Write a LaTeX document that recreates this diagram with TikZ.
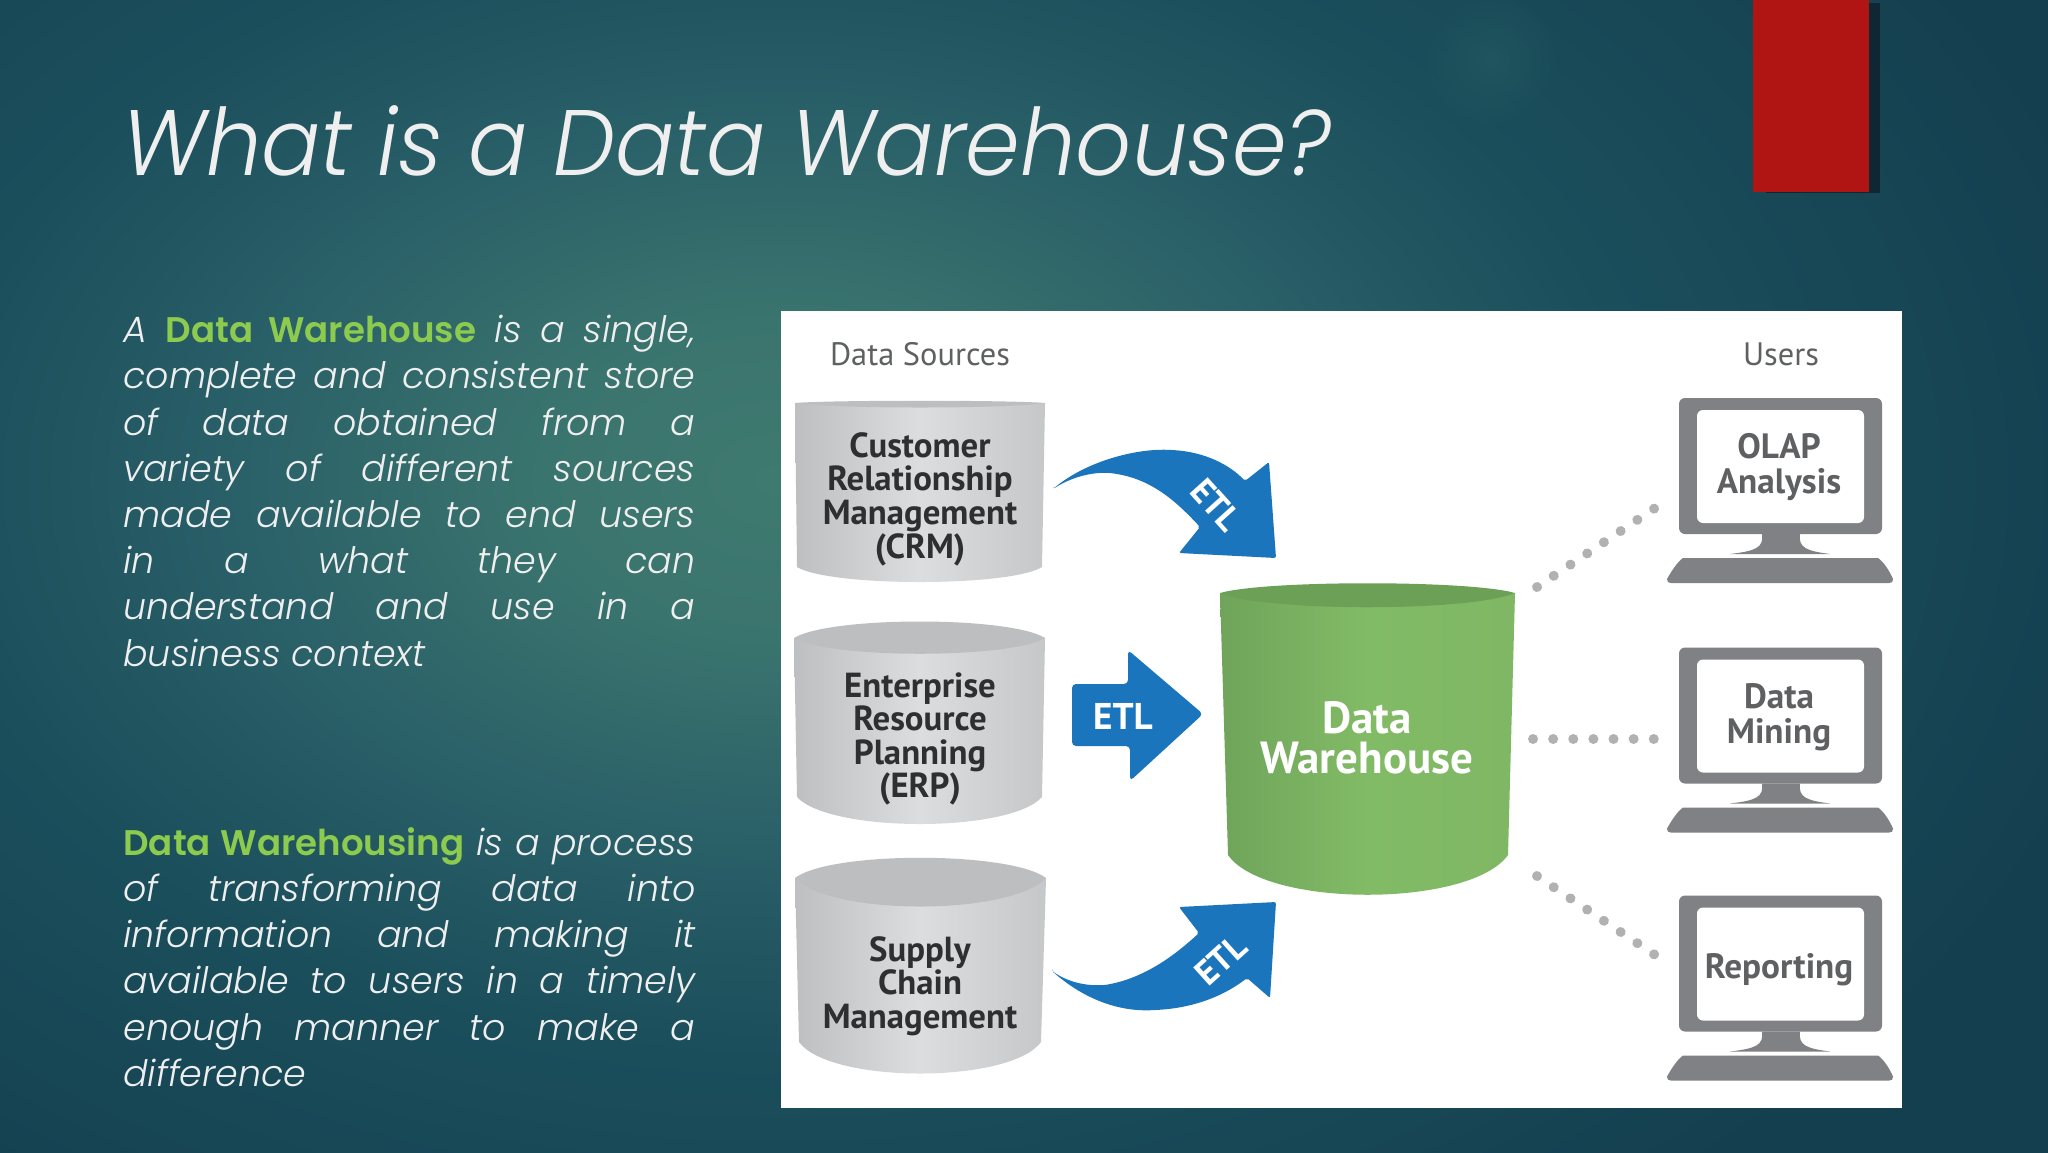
\documentclass[tikz,border=0pt]{standalone}
\usepackage{fontspec}
\usetikzlibrary{fadings}
\setmainfont{Liberation Sans}
\newfontfamily\gothic{Poppins Light Italic}
\newfontfamily\gothict[FakeStretch=0.943]{Poppins Light Italic}
\newfontfamily\gothicb{Poppins SemiBold}
\newfontfamily\ptb{PT Sans Bold}
\newfontfamily\ptr{PT Sans}
\definecolor{edge}{HTML}{143F4F}
\definecolor{bgb}{HTML}{1B4F5C}
\definecolor{bgmid}{HTML}{2A6068}
\definecolor{bgin}{HTML}{3A746E}
\definecolor{bgcen}{HTML}{3F7A70}
\definecolor{bgglow}{HTML}{20565F}
\definecolor{redbar}{HTML}{B01513}
\definecolor{redshadow}{HTML}{0E2733}
\definecolor{titlec}{HTML}{EFEFEF}
\definecolor{hl}{HTML}{8CCB4E}
\definecolor{etlblue}{HTML}{1B75BC}
\definecolor{pcgrey}{HTML}{808184}
\definecolor{pctext}{HTML}{5F6062}
\definecolor{drumtext}{HTML}{2E2F31}
\definecolor{dotgrey}{HTML}{B0B1B3}
\definecolor{drumL}{HTML}{BEBFC1}
\definecolor{drumM}{HTML}{DCDDDE}
\definecolor{drumR}{HTML}{C6C7C9}
\definecolor{drumT}{HTML}{BDBEC0}
\definecolor{wdL}{HTML}{6FA45A}
\definecolor{wdM}{HTML}{82BB66}
\definecolor{wdR}{HTML}{7FB764}
\definecolor{wdT}{HTML}{6CA056}
\pgfdeclareradialshading{slidebg}{\pgfpoint{0bp}{0bp}}{
  color(0bp)=(bgcen); color(4bp)=(bgin); color(9bp)=(bgmid); color(14bp)=(bgb); color(23bp)=(edge); color(50bp)=(edge)}
\tikzfading[name=glowfade,inner color=transparent!0,outer color=transparent!100]
\tikzset{
  slidetext/.style={anchor=north west,text width=286pt,align=justify,font=\gothic\fontsize{18.2}{23.1}\selectfont,text=titlec,inner sep=0pt},
  cyltext/.style={align=center,font=\ptb\fontsize{17.4}{16.8}\selectfont,text=drumtext,inner sep=0pt},
  pctextst/.style={align=center,font=\ptb\fontsize{17.6}{17.4}\selectfont,text=pctext,inner sep=0pt},
  heading/.style={font=\ptr\fontsize{16.2}{18}\selectfont,text=pctext,inner sep=0pt},
  etl/.style={font=\ptb\fontsize{17.5}{18}\selectfont,text=white,inner sep=0pt},
  drumbody/.style={shade,left color=drumL,right color=drumR,middle color=drumM},
  drumtop/.style={fill=drumT},
  dots/.style={draw=dotgrey,line width=5pt,line cap=round,dash pattern=on 0.01pt off 10.05pt},
  pics/computer/.style={code={
    \fill[pcgrey,rounded corners=3pt] (1679,398) rectangle (1882,534);
    \fill[white,rounded corners=3pt] (1697,410) rectangle (1864,523);
    \fill[pcgrey] (1762,534) .. controls (1764,548) and (1755,551) .. (1730,554) -- (1830,554)
      .. controls (1807,551) and (1798,548) .. (1800,534) -- cycle;
    \fill[pcgrey] (1683,558) -- (1878,558) .. controls (1884,562) and (1890,572) .. (1893,579)
      .. controls (1893,582) and (1892,583) .. (1889,583) -- (1671,583) .. controls (1668,583) and (1667,582) .. (1667,579)
      .. controls (1671,572) and (1677,562) .. (1683,558) -- cycle;
  }}
}
\begin{document}
\begin{tikzpicture}[x=0.5pt,y=-0.5pt]
\useasboundingbox (0,0) rectangle (2048,1152);
% background
\fill[edge] (-4,-4) rectangle (2052,1156);
\begin{scope}
\clip (-4,-4) rectangle (2052,1156);
\path[shading=slidebg] (780,480) ellipse [x radius=1500,y radius=1000];
\fill[bgglow,path fading=glowfade] (1490,60) circle [x radius=70,y radius=70];
\end{scope}
% red bar
\fill[redshadow] (1766,3) rectangle (1880,193);
\fill[redbar] (1753,0) rectangle (1869,192);
% title
\node[anchor=base west,inner sep=0pt,text=titlec,font=\gothict\fontsize{46.5}{60}\selectfont] (title) at (122,175) {What is a Data Warehouse?};
% left text
\node[slidetext] (para1) at (123,315) {\tolerance=10000\hbadness=10000
A {\gothicb\fontsize{17.8}{23.1}\selectfont\color{hl}Data Warehouse} is a single,\linebreak
complete and consistent store\linebreak
of data obtained from a\linebreak
variety of different sources\linebreak
made available to end users\linebreak
in a what they can\linebreak
understand and use in a\linebreak
business context};
\node[slidetext] (para2) at (123,827) {\tolerance=10000\hbadness=10000
{\gothicb\fontsize{17.8}{23.1}\selectfont\color{hl}Data Warehousing} is a process\linebreak
of transforming data into\linebreak
information and making it\linebreak
available to users in a timely\linebreak
enough manner to make a\linebreak
difference};
% panel
\fill[white] (781,311) rectangle (1902,1108);
\node[heading] (hsrc) at (920,354) {Data Sources};
\node[heading] (husr) at (1781,354) {Users};
% CRM drum
\path[drumbody]
  (795,403) -- (797,567) .. controls (830,587) and (1010,587) .. (1042,567) -- (1045,403) -- cycle;
\fill[drumtop] (795,403) .. controls (830,400) and (1010,400) .. (1045,403) .. controls (1010,409) and (830,409) .. (795,403) -- cycle;
% ERP drum
\path[drumbody]
  (794,638) -- (797,797) .. controls (830,833) and (1010,833) .. (1042,797) -- (1045,638) -- cycle;
\fill[drumtop] (794,638) .. controls (830,616) and (1010,616) .. (1045,638) .. controls (1010,659) and (830,659) .. (794,638) -- cycle;
% SCM drum
\path[drumbody]
  (795,878) -- (799,1042) .. controls (830,1084) and (1010,1084) .. (1041,1042) -- (1046,878) -- cycle;
\fill[drumtop] (795,878) .. controls (830,851) and (1010,851) .. (1046,878) .. controls (1010,916) and (830,916) .. (795,878) -- cycle;
% warehouse drum
\path[shade,left color=wdL,right color=wdR,middle color=wdM]
  (1220,593) -- (1228,855) .. controls (1265,908) and (1470,908) .. (1508,855) -- (1515,593) -- cycle;
\fill[wdT] (1220,593) .. controls (1265,580) and (1470,580) .. (1515,593) .. controls (1470,612) and (1265,612) .. (1220,593) -- cycle;
\node[cyltext] (crm) at (920,499) {Customer\\Relationship\\Management\\(CRM)};
\node[cyltext] (erp) at (920,739) {Enterprise\\Resource\\Planning\\(ERP)};
\node[cyltext] (scm) at (920,986) {Supply\\Chain\\Management};
\node[align=center,font=\ptb\fontsize{22.5}{20}\selectfont,text=white,inner sep=0pt] (dw) at (1367,738) {Data\\Warehouse};
% ETL arrows
\fill[etlblue,rounded corners=1pt] (1053,489) .. controls (1085,462) and (1135,448) .. (1172,450)
  .. controls (1205,452) and (1230,465) .. (1245,481) -- (1269,462) -- (1276,558) -- (1179,553) -- (1200,527)
  .. controls (1175,500) and (1150,478) .. (1110,473) .. controls (1090,472) and (1070,478) .. (1053,489) -- cycle;
\node[etl,rotate=-48] (etl1) at (1216,505) {ETL};
\fill[etlblue,rounded corners=2pt] (1072,684) -- (1128,684) -- (1128,650) -- (1203,714) -- (1130,781) -- (1130,746) -- (1072,746) -- cycle;
\node[etl,font=\ptb\fontsize{18.6}{18}\selectfont] (etl2) at (1123,716) {ETL};
\fill[etlblue,rounded corners=1pt] (1052,971) .. controls (1085,1000) and (1120,1012) .. (1155,1010)
  .. controls (1195,1008) and (1225,995) .. (1247,978) -- (1270,998) -- (1276,902) -- (1179,907) -- (1199,933)
  .. controls (1175,955) and (1145,978) .. (1105,985) .. controls (1085,986) and (1068,982) .. (1052,971) -- cycle;
\node[etl,rotate=42] (etl3) at (1221,960) {ETL};
% computers
\pic at (0,0) {computer};
\pic at (0,249.5) {computer};
\pic at (0,497.5) {computer};
\node[pctextst] (olap) at (1779,467) {OLAP\\Analysis};
\node[pctextst] (mine) at (1779,717) {Data\\Mining};
\node[pctextst] (rep) at (1779,970) {Reporting};
% dotted connectors
\coordinate (d1a) at (1537,587); \coordinate (d1b) at (1655,508);
\coordinate (d2a) at (1533,739); \coordinate (d2b) at (1655,739);
\coordinate (d3a) at (1537,876); \coordinate (d3b) at (1655,955);
\draw[dots] (d1a) -- (d1b);
\draw[dots] (d2a) -- (d2b);
\draw[dots] (d3a) -- (d3b);
\end{tikzpicture}
\end{document}
